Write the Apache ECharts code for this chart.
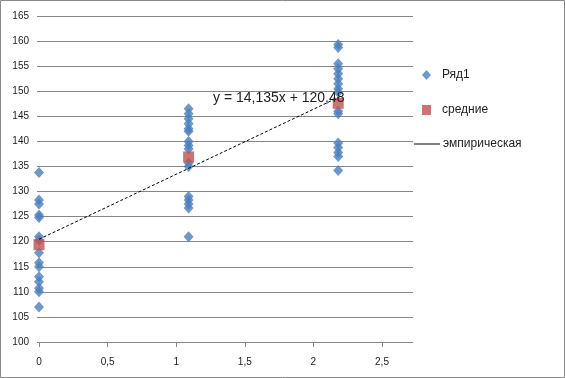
<!DOCTYPE html>
<html>
<head>
<meta charset="utf-8">
<script src="https://cdn.jsdelivr.net/npm/echarts@6/dist/echarts.min.js"></script>
<style>
html,body{margin:0;padding:0;background:#fff;}
#chart{width:565px;height:378px;}
</style>
</head>
<body>
<div id="chart"></div>
<script>
// x tick labels 0..2.5 step 0.5 ; y 100..165 step 5
var xTicks = [0, 0.5, 1, 1.5, 2, 2.5];
var yTicks = [100, 105, 110, 115, 120, 125, 130, 135, 140, 145, 150, 155, 160, 165];

// Ряд1 observations per group
var group0 = [133.8, 128.3, 127.5, 125.3, 124.8, 121.0, 120.3, 117.8, 115.8, 115.0, 113.0, 112.0, 110.7, 110.0, 107.0];
var group1 = [146.5, 145.5, 144.5, 143.5, 142.5, 142.0, 140.0, 139.2, 138.5, 135.7, 135.0, 129.0, 128.3, 127.5, 126.7, 121.0];
var group2 = [159.3, 158.7, 155.5, 154.5, 153.5, 152.5, 151.5, 150.5, 149.8, 146.0, 145.5, 139.7, 138.8, 137.8, 137.0, 134.2];
var groupX = [0, 1, 2];

// средние (means)
var meanX = [0, 1, 2];
var meanY = [119.4, 136.9, 147.6];

// эмпирическая (trend line endpoints)
var trendX = [0, 2];
var trendY = [120.48, 148.75];
var trendLabel = 'y = 14,135x + 120,48';

var groups = [group0, group1, group2];
var seriesPts = [];
groups.forEach(function (g, i) { g.forEach(function (v) { seriesPts.push([groupX[i], v]); }); });
var meanPts = meanX.map(function (x, i) { return [x, meanY[i]]; });
var trendPts = trendX.map(function (x, i) { return [x, trendY[i]]; });

var FONT = 'Liberation Sans';
var chart = echarts.init(document.getElementById('chart'), null, {renderer: 'canvas'});
chart.setOption({
  animation: false,
  backgroundColor: '#fff',
  textStyle: {fontFamily: FONT},
  grid: [
    {left: 39, top: 16, width: 374, height: 326},
    {left: 39, top: 16, width: 343, height: 326}
  ],
  xAxis: [
    {gridIndex: 0, type: 'value', min: xTicks[0], max: xTicks[xTicks.length - 1], show: false},
    {gridIndex: 1, type: 'value', min: xTicks[0], max: xTicks[xTicks.length - 1], interval: 0.5,
      axisLine: {show: true, lineStyle: {color: '#868686', width: 1}},
      axisTick: {show: true, length: 5, lineStyle: {color: '#868686'}},
      splitLine: {show: false},
      axisLabel: {margin: 15, color: '#222', fontSize: 10, fontFamily: FONT,
        formatter: function (v) { return String(v).replace('.', ','); }}
    }
  ],
  yAxis: [
    {gridIndex: 0, type: 'value', min: yTicks[0], max: yTicks[yTicks.length - 1], interval: 5,
      axisLine: {show: false},
      axisTick: {show: true, length: 2, lineStyle: {color: '#868686'}},
      splitLine: {show: true, lineStyle: {color: '#868686', width: 1}},
      axisLabel: {margin: 10, color: '#222', fontSize: 10, fontFamily: FONT}
    },
    {gridIndex: 1, type: 'value', min: yTicks[0], max: yTicks[yTicks.length - 1], interval: 5, show: false}
  ],
  legend: [
    {data: [{name: 'Ряд1', icon: 'diamond'}], orient: 'vertical', left: 422, top: 69, padding: 0,
      itemWidth: 9, itemHeight: 10, textStyle: {fontSize: 12, color: '#222', fontFamily: FONT, padding: [0, 0, 0, 6]}},
    {data: [{name: 'средние', icon: 'rect'}], orient: 'vertical', left: 422, top: 104, padding: 0,
      itemWidth: 9, itemHeight: 10, textStyle: {fontSize: 12, color: '#222', fontFamily: FONT, padding: [0, 0, 0, 6]}},
    {data: [{name: 'эмпирическая', icon: 'rect', itemStyle: {color: '#000'}}], orient: 'vertical', left: 414, top: 138, padding: 0,
      itemWidth: 26, itemHeight: 1,
      textStyle: {fontSize: 12, color: '#222', fontFamily: FONT, padding: [0, 0, 0, -2]}}
  ],
  series: [
    {name: 'Ряд1', type: 'scatter', xAxisIndex: 0, yAxisIndex: 0, data: seriesPts,
      symbol: 'diamond', symbolSize: [10, 11], itemStyle: {color: '#4A7EBB'}, z: 2},
    {name: 'средние', type: 'scatter', xAxisIndex: 0, yAxisIndex: 0, data: meanPts,
      symbol: 'rect', symbolSize: [11, 11], itemStyle: {color: '#C0504D'}, z: 3},
    {name: 'эмпирическая', type: 'line', xAxisIndex: 0, yAxisIndex: 0, data: trendPts,
      symbol: 'none', lineStyle: {color: '#000', width: 1, type: [3, 2]}, itemStyle: {color: '#000'}, z: 4}
  ],
  graphic: [
    {type: 'rect', shape: {x: 0.5, y: 0.5, width: 564, height: 377}, style: {fill: 'none', stroke: '#898989', lineWidth: 1}, silent: true},
    {type: 'text', left: 213, top: 91, style: {text: trendLabel, font: '14px "Liberation Sans"', fill: '#222'}, z: 10}
  ]
});
</script>
</body>
</html>
